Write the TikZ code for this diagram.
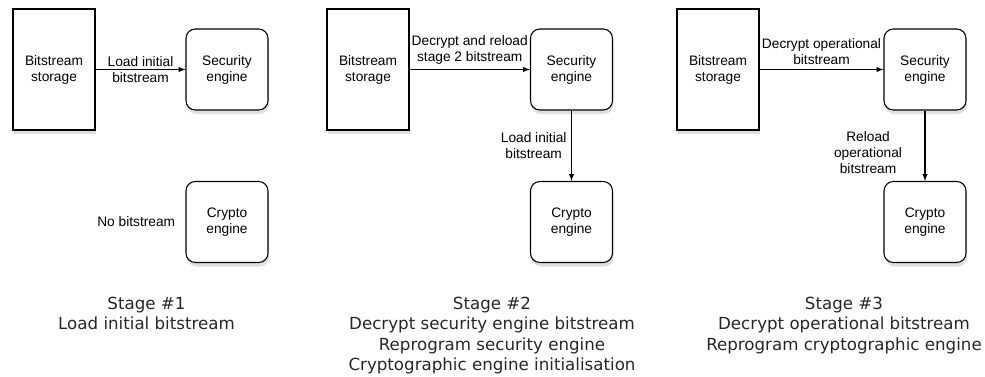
\documentclass[tikz,border=0pt]{standalone}
\usepackage{fontspec}
\setmainfont{Liberation Sans}
\newfontfamily\capfont{DejaVu Sans}
\usetikzlibrary{positioning,shadows}

\begin{document}
\begin{tikzpicture}
  [x=0.75pt,y=-0.75pt,line width=0.8pt,font=\fontsize{10.3}{12}\selectfont,
   shade/.style={drop shadow={opacity=0.25,shadow xshift=0.8pt,shadow yshift=-3pt}},
   store/.style={draw,fill=white,shade,align=center,minimum width=61.5pt,minimum height=90.75pt},
   engine/.style={draw,fill=white,shade,align=center,rounded corners=7pt,minimum width=61.5pt,minimum height=60.75pt},
   lbl/.style={align=center,midway},
   stage/.style={anchor=north,align=center,text=black!85,font=\capfont\fontsize{12.5}{15.3}\selectfont}]
  \useasboundingbox (0,0) rectangle (985,376);

  % stage 1
  \node[store] (store1) at (54,69.5) {Bitstream\\storage};
  \node[engine] (sec1) at (227,69.5) {Security\\engine};
  \node[engine] (cry1) at (227,222) {Crypto\\engine};
  \node[left=4pt of cry1] (none1) {No bitstream};
  \draw [-latex](store1) -- (sec1) node[lbl] {Load initial\\bitstream};

  % stage 2
  \node[store] (store2) at (368,69.5) {Bitstream\\storage};
  \node[engine] (sec2) at (571.5,69.5) {Security\\engine};
  \node[engine] (cry2) at (571.5,222) {Crypto\\engine};
  \draw [-latex](store2) -- (sec2) node[lbl,above] {Decrypt and reload\\stage 2 bitstream};
  \draw [-latex](sec2) -- (cry2) node[lbl,left] {Load initial\\bitstream};

  % stage 3
  \node[store] (store3) at (718,69.5) {Bitstream\\storage};
  \node[engine] (sec3) at (925,69.5) {Security\\engine};
  \node[engine] (cry3) at (925,222) {Crypto\\engine};
  \draw [-latex](store3) -- (sec3) node[lbl,above] {Decrypt operational\\bitstream};
  \draw [-latex](sec3) -- (cry3) node[lbl,left,xshift=-13.5pt,yshift=-5pt] {Reload\\operational\\bitstream};

  % captions
  \node[stage] (cap1) at (146.5,292) {Stage \#1\\Load initial bitstream};
  \node[stage] (cap2) at (492,292) {Stage \#2\\Decrypt security engine bitstream\\Reprogram security engine\\Cryptographic engine initialisation};
  \node[stage] (cap3) at (844,292) {Stage \#3\\Decrypt operational bitstream\\Reprogram cryptographic engine};
\end{tikzpicture}
\end{document}
